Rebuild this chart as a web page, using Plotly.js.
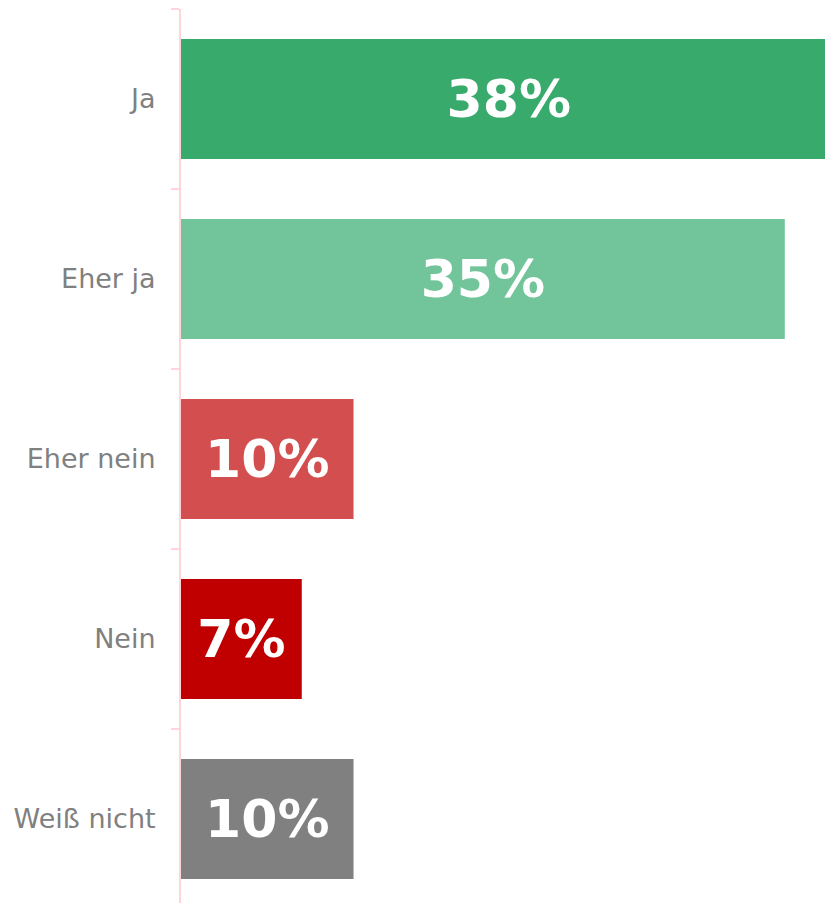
<!DOCTYPE html>
<html>
<head>
<meta charset="utf-8">
<script src="https://cdn.plot.ly/plotly-3.0.1.min.js"></script>
<style>html,body{margin:0;padding:0;background:#fff;}#chart{width:825px;height:903px;}</style>
</head>
<body>
<div id="chart"></div>
<script>
const categories = ["Ja", "Eher ja", "Eher nein", "Nein", "Weiß nicht"];
const values = [38, 35, 10, 7, 10];
const colors = ["#37AA6C", "#72C59A", "#D34E4F", "#C00000", "#808080"];

const trace = {
  type: "bar",
  orientation: "h",
  y: categories,
  x: values,
  marker: {color: colors},
  texttemplate: "%{x}%",
  textposition: "inside",
  insidetextanchor: "middle",
  textangle: 0,
  constraintext: "none",
  textfont: {family: "DejaVu Sans", size: 52, color: "#ffffff", weight: "bold"},
  hoverinfo: "none"
};

const layout = {
  width: 825,
  height: 903,
  margin: {l: 181, r: 0, t: 9, b: 0, pad: 0},
  paper_bgcolor: "#ffffff",
  plot_bgcolor: "#ffffff",
  showlegend: false,
  bargap: 1/3,
  xaxis: {
    range: [0, 37.33],
    visible: false,
    fixedrange: true
  },
  yaxis: {
    type: "category",
    categoryorder: "array",
    categoryarray: categories,
    range: [4.467, -0.5],
    showline: true,
    linecolor: "#FFD5DA",
    linewidth: 2,
    showgrid: false,
    zeroline: false,
    ticks: "outside",
    tickson: "boundaries",
    ticklen: 8,
    tickwidth: 2,
    tickcolor: "#FFD5DA",
    ticklabelstandoff: 18,
    tickfont: {family: "DejaVu Sans", size: 27, color: "#808080"},
    fixedrange: true
  }
};

Plotly.newPlot("chart", [trace], layout, {displayModeBar: false, staticPlot: true});
</script>
</body>
</html>
